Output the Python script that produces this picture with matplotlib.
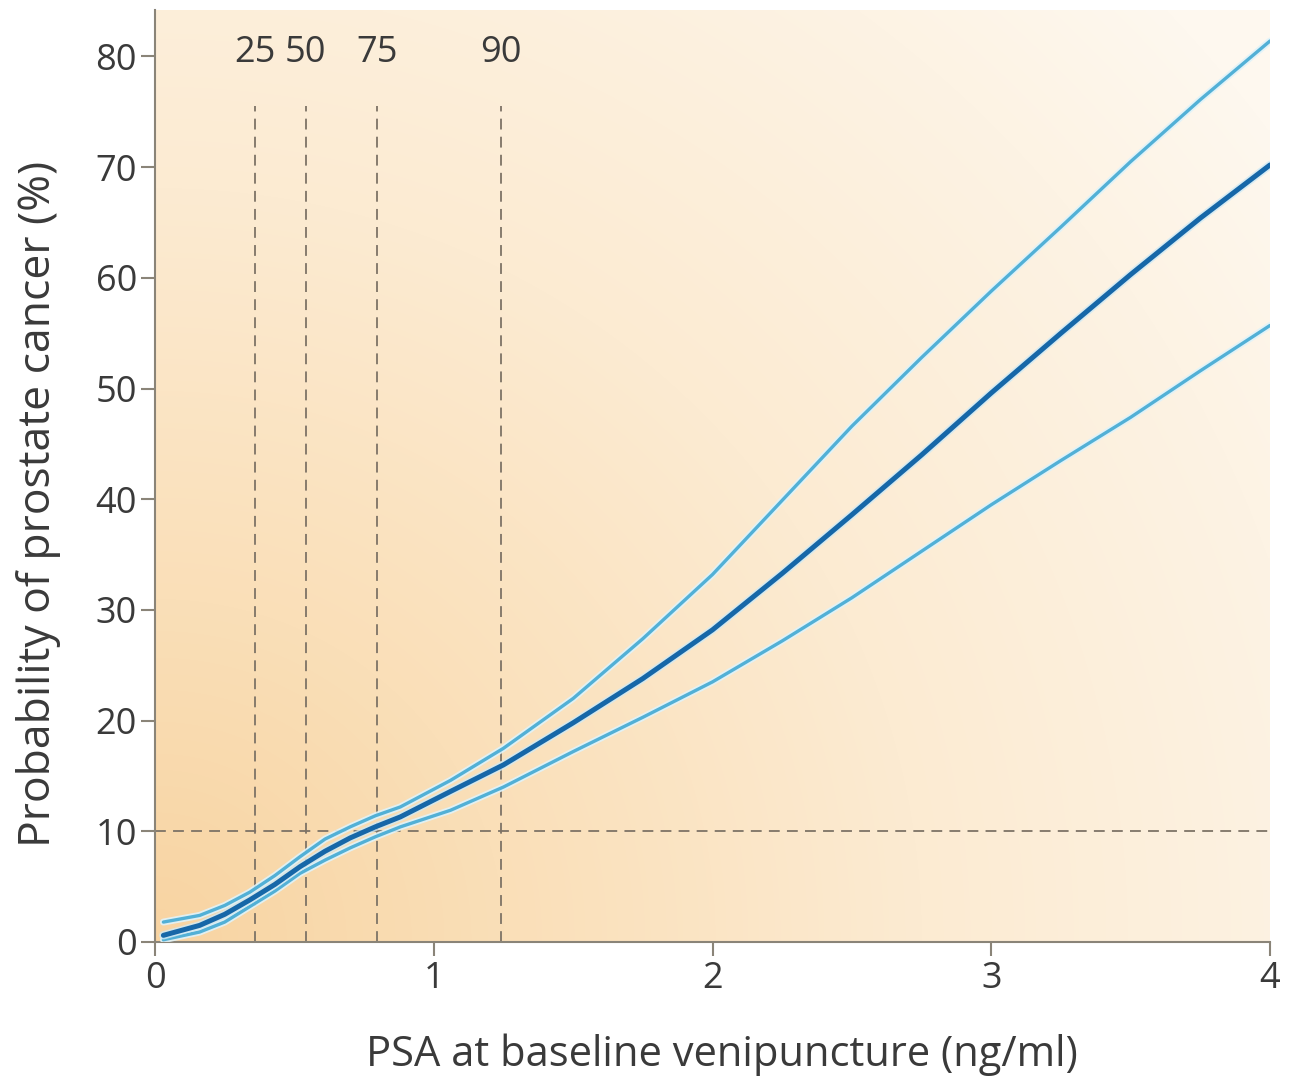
import numpy as np
import matplotlib
matplotlib.use("Agg")
import matplotlib.pyplot as plt
import matplotlib.patheffects as pe
from matplotlib.colors import LinearSegmentedColormap

# ---- data ----
psa = [0.03, 0.16, 0.25, 0.34, 0.43, 0.52, 0.61, 0.70, 0.79, 0.88, 1.06, 1.25,
       1.5, 1.75, 2.0, 2.25, 2.5, 2.75, 3.0, 3.25, 3.5, 3.75, 4.0]
prob_mean = [0.6, 1.5, 2.5, 3.8, 5.2, 6.8, 8.2, 9.4, 10.4, 11.3, 13.6, 16.0,
             19.8, 23.8, 28.2, 33.3, 38.6, 44.0, 49.6, 55.0, 60.3, 65.4, 70.2]
prob_upper = [1.8, 2.4, 3.3, 4.5, 6.0, 7.7, 9.3, 10.4, 11.4, 12.2, 14.6, 17.5,
              22.0, 27.4, 33.2, 39.9, 46.6, 52.8, 58.8, 64.6, 70.5, 76.1, 81.4]
prob_lower = [0.2, 0.9, 1.8, 3.2, 4.6, 6.2, 7.4, 8.5, 9.5, 10.4, 11.9, 14.0,
              17.2, 20.3, 23.5, 27.2, 31.1, 35.3, 39.5, 43.5, 47.4, 51.6, 55.7]

percentile_labels = ["25", "50", "75", "90"]
percentile_psa = [0.36, 0.54, 0.795, 1.24]
threshold = 10

x_ticks = [0, 1, 2, 3, 4]
y_ticks = [0, 10, 20, 30, 40, 50, 60, 70, 80]

# ---- style ----
plt.rcParams['font.family'] = ['Open Sans', 'DejaVu Sans']
text_col = '#3a3a3a'
axis_col = '#8a8478'
dash_col = '#7d7366'

fig = plt.figure(figsize=(12.93, 10.88), dpi=100)
fig.patch.set_facecolor('white')
ax = fig.add_axes([0.1199, 0.1342, 0.8623, 0.8566])
ax.set_xlim(0, 4)
ax.set_ylim(0, 84.2)

# background radial gradient from bottom-left
cmap = LinearSegmentedColormap.from_list('bg', [
    (0.0, '#f8d4a2'), (0.25, '#fadfb8'), (0.55, '#fcebd2'),
    (0.85, '#fdf3e4'), (1.0, '#fef8ef')])
gx, gy = np.meshgrid(np.linspace(0, 1, 300), np.linspace(0, 1, 300))
d = np.sqrt((gx * 1.0) ** 2 + (gy * 0.85) ** 2) / 1.25
d = np.clip(d, 0, 1)
ax.imshow(d, cmap=cmap, origin='lower', extent=[0, 1, 0, 1], transform=ax.transAxes,
          aspect='auto', zorder=0, vmin=0, vmax=1, interpolation='bilinear')

# dashed reference lines
ax.plot([0, 4], [threshold, threshold], color=dash_col, lw=1.3, ls=(0, (6, 4)), zorder=2)
for xp, lab in zip(percentile_psa, percentile_labels):
    ax.plot([xp, xp], [0, 75.5], color=dash_col, lw=1.3, ls=(0, (6, 4)), zorder=2)
    ax.text(xp, 80.3, lab, ha='center', va='center', fontsize=26, color=text_col)

# curves
halo = [pe.Stroke(linewidth=5.0, foreground='#dff3fa', alpha=0.9), pe.Normal()]
ax.plot(psa, prob_upper, color='#52b0d6', lw=2.4, zorder=3, path_effects=halo,
        solid_capstyle='round', solid_joinstyle='round')
ax.plot(psa, prob_lower, color='#52b0d6', lw=2.4, zorder=3, path_effects=halo,
        solid_capstyle='round', solid_joinstyle='round')
ax.plot(psa, prob_mean, color='#1667a8', lw=3.6, zorder=4,
        path_effects=[pe.Stroke(linewidth=6, foreground='#cfeaf6', alpha=0.8), pe.Normal()],
        solid_capstyle='round', solid_joinstyle='round')

# axes styling
for s in ['top', 'right']:
    ax.spines[s].set_visible(False)
for s in ['left', 'bottom']:
    ax.spines[s].set_color(axis_col)
    ax.spines[s].set_linewidth(1.5)
ax.set_xticks(x_ticks)
ax.set_yticks(y_ticks)
ax.set_xticklabels([str(v) for v in x_ticks])
ax.set_yticklabels([str(v) for v in y_ticks])
ax.tick_params(axis='both', direction='out', length=10, width=1.5, color=axis_col,
               labelsize=26, labelcolor=text_col, pad=3)
ax.tick_params(axis='x', pad=4)

ax.set_xlabel('PSA at baseline venipuncture (ng/ml)', fontsize=30, color=text_col)
ax.set_ylabel('Probability of prostate cancer (%)', fontsize=32, color=text_col)
ax.xaxis.set_label_coords(0.508, -0.098)
ax.yaxis.set_label_coords(-0.084, 0.47)

fig.savefig('out.png', dpi=100, facecolor='white')
